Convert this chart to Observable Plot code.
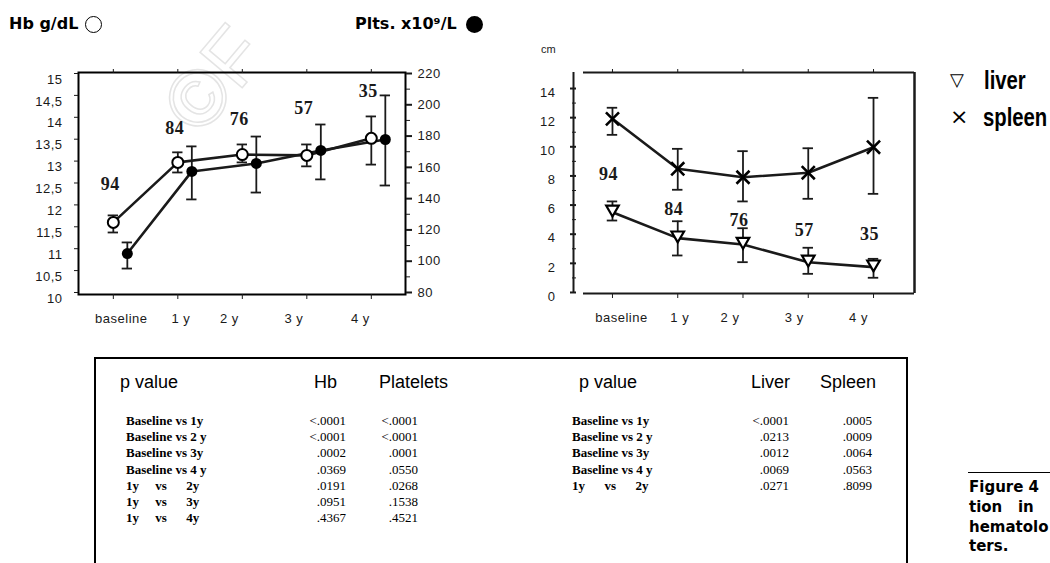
<!DOCTYPE html>
<html><head><meta charset="utf-8">
<script src="https://cdn.jsdelivr.net/npm/d3@7"></script>
<script src="https://cdn.jsdelivr.net/npm/@observablehq/plot@0.6"></script>
<style>
html,body{margin:0;padding:0;background:#fff;}
#page{position:relative;width:1050px;height:563px;overflow:hidden;font-family:"Liberation Sans",Arial,sans-serif;color:#000;}
.abs{position:absolute;white-space:pre;line-height:1;}
.chart{position:absolute;top:0;}
#wm{position:absolute;left:0;top:0;}
</style></head><body><div id="page"></div>
<script>
// ---------- data ----------
const years = ["baseline", "1 y", "2 y", "3 y", "4 y"];
const t = [0, 1, 2, 3, 4];
const nPatients = [94, 84, 76, 57, 35];

// Hb (g/dL), left axis
const hb   = [11.60, 12.97, 13.15, 13.13, 13.52];
const hbLo = [11.37, 12.74, 12.97, 12.88, 12.92];
const hbHi = [11.76, 13.20, 13.38, 13.38, 14.02];
// Platelets (x10^9/L), right axis
const plt   = [104.9, 157.4, 162.5, 170.8, 177.8];
const pltLo = [95.3, 139.5, 143.9, 152.3, 148.4];
const pltHi = [112.0, 173.4, 179.7, 187.4, 206.0];
// heights (Hb units) of the patient-count labels
const nLabelHb = [12.47, 13.74, 13.95, 14.20, 14.59];

// Spleen / liver (cm)
const spleen   = [11.92, 8.49, 7.91, 8.22, 9.97];
const spleenLo = [10.82, 7.05, 6.25, 6.43, 6.77];
const spleenHi = [12.68, 9.86, 9.70, 9.90, 13.36];
const liver    = [5.51, 3.73, 3.29, 2.08, 1.74];
const liverLo  = [4.94, 2.54, 2.08, 1.28, 1.01];
const liverHi  = [6.25, 4.89, 4.41, 3.07, 2.31];
const nLabelCm = [8.15, 5.68, 4.99, 4.30, 4.03];

const hbTicks = d3.range(10, 15.001, 0.5);
const pltTicks = d3.range(80, 221, 20);
const cmTicks = d3.range(0, 15, 2);

// p-value tables
const pairsLeft = ["Baseline vs 1y", "Baseline vs 2 y", "Baseline vs 3y", "Baseline vs 4 y", "1y     vs      2y", "1y     vs      3y", "1y     vs      4y"];
const pHb  = ["<.0001", "<.0001", ".0002", ".0369", ".0191", ".0951", ".4367"];
const pPlt = ["<.0001", "<.0001", ".0001", ".0550", ".0268", ".1538", ".4521"];
const pairsRight = ["Baseline vs 1y", "Baseline vs 2 y", "Baseline vs 3y", "Baseline vs 4 y", "1y      vs      2y"];
const pLiver  = ["<.0001", ".0213", ".0012", ".0069", ".0271"];
const pSpleen = [".0005", ".0009", ".0064", ".0563", ".8099"];

// ---------- helpers ----------
const page = document.getElementById("page");
const toHb = p => 10 + (p - 80) / 28;
const fromHb = v => 80 + (v - 10) * 28;
function put(txt, x, y, css = {}, align = "left") {
  const d = document.createElement("div");
  d.className = "abs";
  d.textContent = txt;
  const tr = align === "right" ? "translate(-100%,-50%)" : align === "center" ? "translate(-50%,-50%)" : "translateY(-50%)";
  Object.assign(d.style, {left: x + "px", top: y + "px"}, css);
  d.style.transform = css.transform ? tr + " " + css.transform : tr;
  page.append(d);
  return d;
}

// faint watermark
page.insertAdjacentHTML("beforeend",
  `<svg id="wm" width="480" height="170"><text x="200" y="138" transform="rotate(-50 200 138)" font-family="Liberation Sans, Arial" font-size="80" fill="none" stroke="#e4e4e4" stroke-width="1.5">©F</text></svg>`);

const serif = "Liberation Serif, Times New Roman, serif";
const sans = "Liberation Sans, Arial, sans-serif";
const cap = 0.08;
const axisStyle = {fontFamily: sans, fontSize: "13px", color: "#1a1a1a", background: "transparent", overflow: "visible", letterSpacing: "0.5px"};
// x-label nudges (px) relative to the ticks, as printed in the figure
const nudgeL = [8, 3, -13, -13, -11];
const nudgeR = [9, 2, -13, -14, -15];
const xLabels = (nudge) => t.map((v, i) => Plot.axisX([v], {anchor: "bottom", tickSize: 0, tickPadding: 19, dx: nudge[i], label: null, tickFormat: () => years[i], fontSize: 13}));

// ---------- left chart ----------
const L = t.map((d, i) => ({t: d, hb: hb[i], hbLo: hbLo[i], hbHi: hbHi[i],
  plt: toHb(plt[i]), pltLo: toHb(pltLo[i]), pltHi: toHb(pltHi[i]), n: nPatients[i], ny: nLabelHb[i]}));

const chart1 = Plot.plot({
  width: 480, height: 330,
  marginLeft: 78, marginRight: 75, marginTop: 72, marginBottom: 36,
  x: {domain: [-0.54, 4.53], label: null},
  y: {domain: [9.954, 15.023], label: null},
  style: axisStyle,
  marks: [
    Plot.frame({stroke: "#000", strokeWidth: 2}),
    Plot.axisY(hbTicks, {anchor: "left", tickSize: 4, tickFormat: () => "", label: null}),
    Plot.axisY(hbTicks, {anchor: "left", tickSize: 0, tickPadding: 16, dy: 6, label: null,
      tickFormat: v => String(v).replace(".", ","), fontSize: 13}),
    Plot.axisY(pltTicks.map(toHb), {anchor: "right", tickSize: 6, strokeWidth: 2, tickFormat: () => "", label: null}),
    Plot.axisY(d3.range(90, 221, 20).map(toHb), {anchor: "right", tickSize: 4, tickFormat: () => "", label: null}),
    Plot.axisY(pltTicks.map(toHb), {anchor: "right", tickSize: 0, tickPadding: 12, label: null,
      tickFormat: v => String(Math.round(fromHb(v))), fontSize: 13}),
    Plot.axisX(t, {anchor: "top", tickSize: 4, tickFormat: () => "", label: null}),
    Plot.axisX(t, {anchor: "bottom", tickSize: 5, tickFormat: () => "", label: null}),
    ...xLabels(nudgeL),
    // Hb error bars
    Plot.ruleX(L, {x: "t", y1: "hbLo", y2: "hbHi", strokeWidth: 1.8}),
    Plot.ruleY(L, {y: "hbLo", x1: d => d.t - cap, x2: d => d.t + cap, strokeWidth: 1.8}),
    Plot.ruleY(L, {y: "hbHi", x1: d => d.t - cap, x2: d => d.t + cap, strokeWidth: 1.8}),
    Plot.line(L, {x: "t", y: "hb", strokeWidth: 2.6}),
    // platelet error bars (shifted right)
    Plot.ruleX(L, {x: "t", y1: "pltLo", y2: "pltHi", dx: 14, strokeWidth: 1.8}),
    Plot.ruleY(L, {y: "pltLo", x1: d => d.t - cap, x2: d => d.t + cap, dx: 14, strokeWidth: 1.8}),
    Plot.ruleY(L, {y: "pltHi", x1: d => d.t - cap, x2: d => d.t + cap, dx: 14, strokeWidth: 1.8}),
    Plot.line(L, {x: "t", y: "plt", dx: 14, strokeWidth: 2.6}),
    Plot.dot(L, {x: "t", y: "hb", r: 5.5, fill: "white", stroke: "black", strokeWidth: 2}),
    Plot.dot(L, {x: "t", y: "plt", dx: 14, r: 5.5, fill: "black"}),
    Plot.text(L, {x: "t", y: "ny", text: d => String(d.n), dx: -3, fontFamily: serif, fontWeight: "bold", fontSize: 18})
  ]
});
chart1.classList.add("chart");
chart1.style.left = "0px";
page.append(chart1);

// ---------- right chart ----------
const R = t.map((d, i) => ({t: d, sp: spleen[i], spLo: spleenLo[i], spHi: spleenHi[i],
  lv: liver[i], lvLo: liverLo[i], lvHi: liverHi[i], n: nPatients[i], ny: nLabelCm[i]}));
const xR = [-0.444, 4.628], yR = [-0.07, 15.1];

const chart2 = Plot.plot({
  width: 450, height: 330,
  marginLeft: 103, marginRight: 16, marginTop: 72, marginBottom: 37,
  x: {domain: xR, label: null},
  y: {domain: yR, label: null},
  style: axisStyle,
  marks: [
    Plot.ruleY([yR[1]], {strokeWidth: 2}),
    Plot.ruleY([yR[0]], {strokeWidth: 2.2}),
    Plot.ruleX([xR[1]], {strokeWidth: 2.5}),
    Plot.ruleX([xR[0]], {dx: -10, strokeWidth: 2}),
    Plot.axisY(cmTicks, {anchor: "left", dx: -7, tickSize: 6, strokeWidth: 2, tickFormat: () => "", label: null}),
    Plot.axisY(d3.range(1, 15, 2), {anchor: "left", dx: -7, tickSize: 4, tickFormat: () => "", label: null}),
    Plot.axisY(cmTicks, {anchor: "left", dx: -10, tickSize: 0, tickPadding: 18, dy: 4, label: null, fontSize: 13}),
    Plot.axisX(t, {anchor: "top", tickSize: 4, tickFormat: () => "", label: null}),
    Plot.axisX(t, {anchor: "bottom", tickSize: 5, tickFormat: () => "", label: null}),
    ...xLabels(nudgeR),
    // spleen
    Plot.ruleX(R, {x: "t", y1: "spLo", y2: "spHi", strokeWidth: 1.8}),
    Plot.ruleY(R, {y: "spLo", x1: d => d.t - cap, x2: d => d.t + cap, strokeWidth: 1.8}),
    Plot.ruleY(R, {y: "spHi", x1: d => d.t - cap, x2: d => d.t + cap, strokeWidth: 1.8}),
    Plot.line(R, {x: "t", y: "sp", strokeWidth: 2.6}),
    Plot.dot(R, {x: "t", y: "sp", symbol: "times", r: 6, stroke: "black", strokeWidth: 2.6}),
    // liver
    Plot.ruleX(R, {x: "t", y1: "lvLo", y2: "lvHi", strokeWidth: 1.8}),
    Plot.ruleY(R, {y: "lvLo", x1: d => d.t - cap, x2: d => d.t + cap, strokeWidth: 1.8}),
    Plot.ruleY(R, {y: "lvHi", x1: d => d.t - cap, x2: d => d.t + cap, strokeWidth: 1.8}),
    Plot.line(R, {x: "t", y: "lv", strokeWidth: 2.6}),
    Plot.dot(R, {x: "t", y: "lv", symbol: "triangle2", rotate: 180, r: 6, dy: -3, fill: "white", stroke: "black", strokeWidth: 2.2}),
    Plot.text(R, {x: "t", y: "ny", text: d => String(d.n), dx: -4, fontFamily: serif, fontWeight: "bold", fontSize: 18})
  ]
});
chart2.classList.add("chart");
chart2.style.left = "480px";
page.append(chart2);

// ---------- chart legends & axis titles ----------
const legFont = {fontFamily: "DejaVu Sans, Verdana, sans-serif", fontWeight: "bold", fontSize: "16px"};
put("Hb g/dL", 9, 24, legFont);
const c1 = document.createElement("div");
Object.assign(c1.style, {position: "absolute", left: "85px", top: "16px", width: "15px", height: "15px", border: "1.5px solid #000", borderRadius: "50%"});
page.append(c1);
put("Plts. x10⁹/L", 355, 24, legFont);
const c2 = document.createElement("div");
Object.assign(c2.style, {position: "absolute", left: "466px", top: "16px", width: "17px", height: "17px", background: "#000", borderRadius: "50%"});
page.append(c2);

put("cm", 541, 49, {fontSize: "11px", color: "#222"});

const narrow = {fontFamily: "Liberation Sans, Arial, sans-serif", fontWeight: "bold", fontSize: "26px", transform: "scaleX(0.78)", transformOrigin: "0 50%"};
put("▽", 950, 80, {fontFamily: "DejaVu Sans, sans-serif", fontSize: "18px"});
put("liver", 984, 80, narrow);
put("×", 950, 117, {fontFamily: "DejaVu Sans, sans-serif", fontSize: "22px"});
put("spleen", 983, 117, narrow);

// ---------- p-value tables ----------
const box = document.createElement("div");
Object.assign(box.style, {position: "absolute", left: "94px", top: "357px", width: "814px", height: "260px", border: "2px solid #000", boxSizing: "border-box"});
page.append(box);

const head = {fontFamily: sans, fontSize: "18px"};
put("p value", 120, 382, head);
put("Hb", 314, 382, head);
put("Platelets", 379, 382, head);
put("p value", 579, 382, head);
put("Liver", 751, 382, head);
put("Spleen", 820, 382, head);

const rowY = [420, 436, 452, 469, 485, 501, 517];
const rowLab = {fontFamily: serif, fontWeight: "bold", fontSize: "13px"};
const rowVal = {fontFamily: serif, fontSize: "13px"};
pairsLeft.forEach((s, i) => {
  put(s, 126, rowY[i], rowLab);
  put(pHb[i], 346, rowY[i], rowVal, "right");
  put(pPlt[i], 418, rowY[i], rowVal, "right");
});
pairsRight.forEach((s, i) => {
  put(s, 572, rowY[i], rowLab);
  put(pLiver[i], 789, rowY[i], rowVal, "right");
  put(pSpleen[i], 872, rowY[i], rowVal, "right");
});

// ---------- caption ----------
const rule = document.createElement("div");
Object.assign(rule.style, {position: "absolute", left: "968px", top: "472px", width: "90px", height: "0", borderTop: "1.5px solid #000"});
page.append(rule);
const capFont = {fontFamily: "DejaVu Sans, Verdana, sans-serif", fontWeight: "bold", fontSize: "15px"};
put("Figure 4", 969, 487, capFont);
put("tion   in", 969, 507, capFont);
put("hematolo", 969, 527, capFont);
put("ters.", 969, 546, capFont);
</script></body></html>
